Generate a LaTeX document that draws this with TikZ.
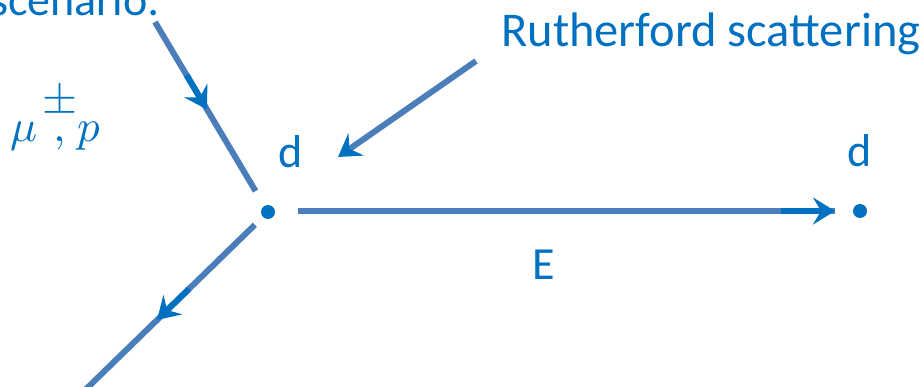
\documentclass[tikz,border=0pt]{standalone}
\usepackage{fontspec}
\usepackage{amsmath}
\usepackage{unicode-math}
\setmainfont{Carlito}
\setmathfont{Latin Modern Math}
\usetikzlibrary{arrows.meta,calc}
\definecolor{lineblue}{RGB}{74,126,187}
\definecolor{headblue}{RGB}{0,112,192}
\begin{document}
\begin{tikzpicture}[x=1pt, y=-1pt,
  every node/.style={text=headblue, inner sep=0pt, font=\fontsize{46}{50}\selectfont},
  leg/.style={draw=lineblue, line width=6pt},
  tip/.style={-{Stealth[length=22pt, width=27pt, inset=8pt, color=headblue]}},
  vertex/.style={circle, fill=headblue, minimum size=14pt}]
  \useasboundingbox (0,0) rectangle (920,387);
  \node[anchor=base east] (scen) at (160,16) {scenario:};
  \node[anchor=base west, font=\fontsize{48.5}{52}\selectfont] (ruth) at (501,47) {Rutherford scattering};
  \node[anchor=base west, font=\fontsize{45}{50}\selectfont] (part) at (10,142) {$\mu\mkern2mu\overset{\textstyle\pm}{\vphantom{x},}p$};
  \node[vertex] (v1) at (268,212) {};
  \node[vertex] (v2) at (860,211) {};
  \node[anchor=base] (d1) at (291,168) {d};
  \node[anchor=base] (d2) at (860,167) {d};
  \node[anchor=base] (en) at (544,279) {E};
  \coordinate (in) at (155,22);
  \coordinate (out) at (80,395);
  \coordinate (hs) at (298,211);
  \coordinate (hx) at (835,211);
  \coordinate (rs) at (476,61);
  \coordinate (rt) at (338,157);
  % incoming particle
  \draw[leg] (in) -- ($(in)!0.89!(v1)$);
  \draw[headblue, line width=6pt, tip] ($(in)!0.28!(v1)$) -- ($(in)!0.46!(v1)$);
  % outgoing particle
  \draw[leg] ($(v1)!0.07!(out)$) -- (out);
  \draw[headblue, line width=6pt, tip] ($(v1)!0.42!(out)$) -- ($(v1)!0.59!(out)$);
  % recoil deuteron
  \draw[leg] (hs) -- (hx);
  \draw[headblue, line width=6pt, tip] ($(hs)!0.9!(hx)$) -- (hx);
  % label arrow
  \draw[leg, tip] (rs) -- (rt);
\end{tikzpicture}
\end{document}
